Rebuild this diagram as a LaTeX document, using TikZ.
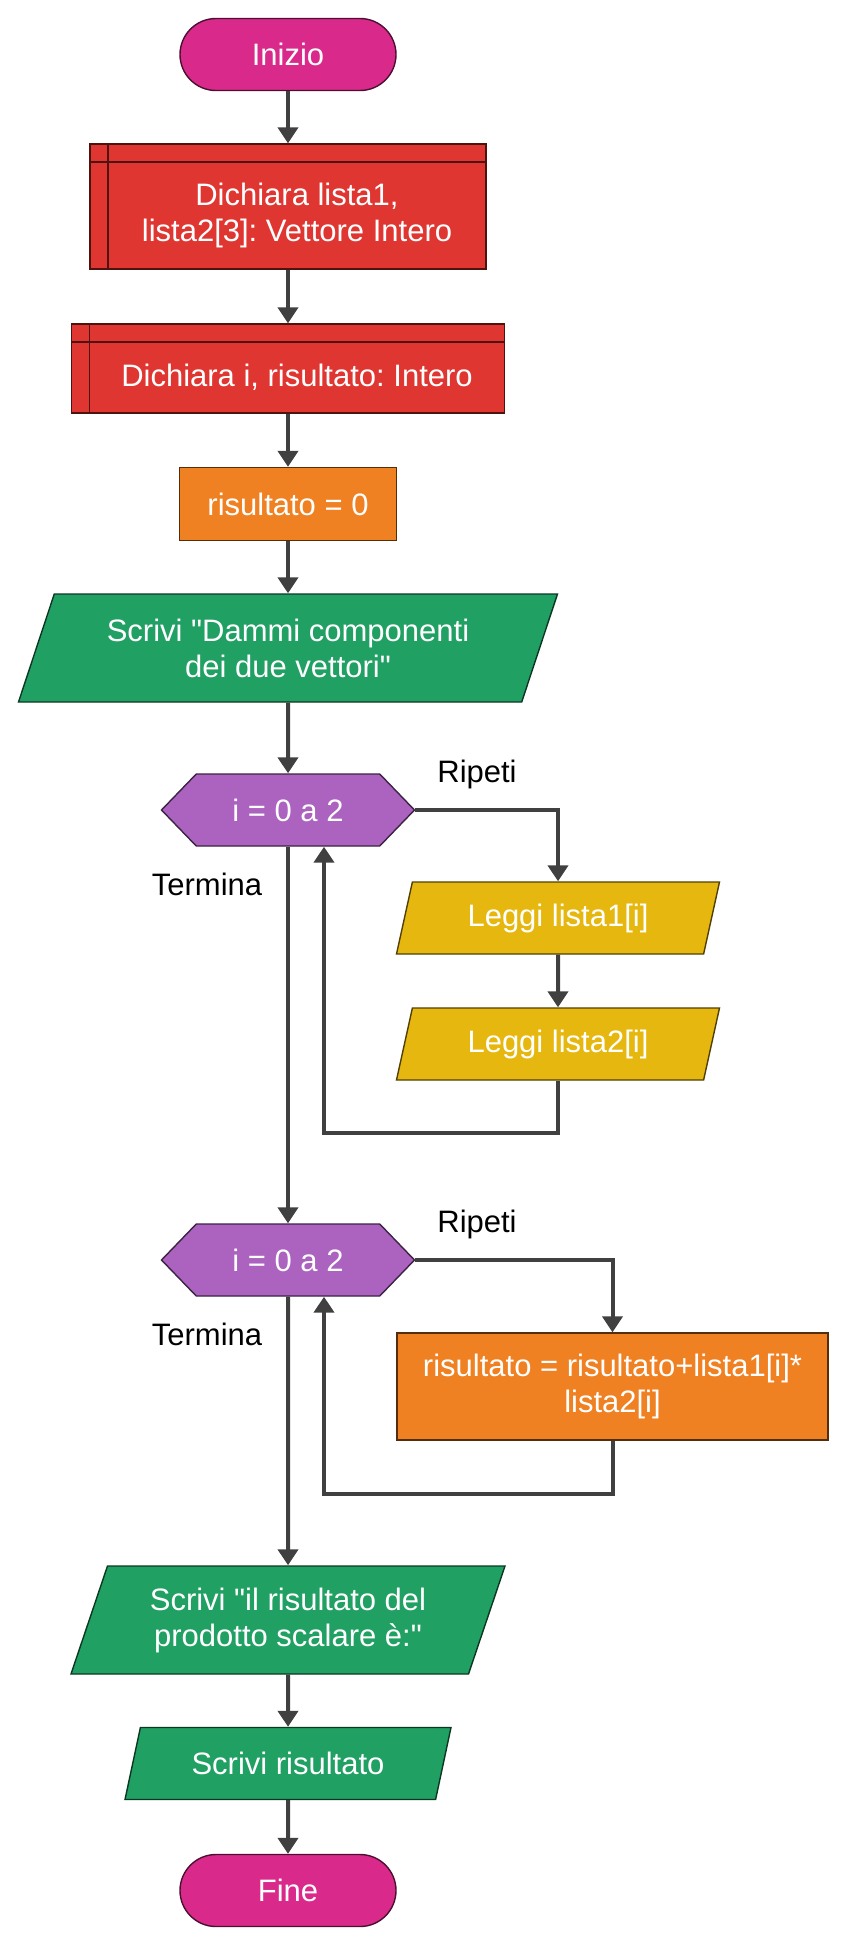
\documentclass[tikz,border=0pt]{standalone}
\usepackage{fontspec}
\setmainfont{Liberation Sans}
\usetikzlibrary{arrows.meta,shapes.geometric,shapes.symbols}
\definecolor{startpink}{HTML}{D92A8B}
\definecolor{declred}{HTML}{E03632}
\definecolor{assignorange}{HTML}{F08122}
\definecolor{iogreen}{HTML}{21A063}
\definecolor{loopviolet}{HTML}{AB63BF}
\definecolor{readyellow}{HTML}{E6B80F}
\definecolor{linegray}{HTML}{404040}
\frenchspacing
% text of a declaration box sits in the part right of / below the inner lines
\newcommand{\declfirst}[1]{\raisebox{0pt}[\dimexpr\height+9pt\relax]{\hspace*{9pt}#1}}
\newcommand{\declnext}[1]{\hspace*{9pt}#1}

\begin{document}
\begin{tikzpicture}[
  x=0.5pt,y=-0.5pt,
  font=\fontsize{15.5pt}{18pt}\selectfont,
  box/.style={draw,line width=0.7pt,align=center,text=white,inner sep=2pt},
  terminal/.style={box,rounded corners=18pt,fill=startpink,draw=startpink!35!black,
    minimum width=108pt,minimum height=36pt},
  declare/.style={box,fill=declred,draw=declred!35!black,
    path picture={
      \draw[declred!35!black,line width=0.7pt]
        ([xshift=9pt]path picture bounding box.north west) --
        ([xshift=9pt]path picture bounding box.south west);
      \draw[declred!35!black,line width=0.7pt]
        ([yshift=-9pt]path picture bounding box.north west) --
        ([yshift=-9pt]path picture bounding box.north east);}},
  assign/.style={box,fill=assignorange,draw=assignorange!35!black},
  inout/.style={box,trapezium,trapezium stretches body,fill=iogreen,draw=iogreen!35!black},
  readin/.style={box,trapezium,trapezium stretches body,fill=readyellow,draw=readyellow!35!black,
    trapezium left angle=66.7,trapezium right angle=113.3,
    minimum width=161.5pt,minimum height=36pt},
  forloop/.style={box,shape=signal,signal to=west and east,signal pointer angle=92,
    fill=loopviolet,draw=loopviolet!35!black,minimum width=126.5pt,minimum height=36pt},
  tag/.style={text=black},
  flow/.style={-{Triangle[length=8pt,width=10pt]},line width=2pt,draw=linegray}
]
  \useasboundingbox (0,0) rectangle (847,1945);

  \node[terminal] (start) at (288,54.5) {Inizio};
  \node[declare,minimum width=198pt,minimum height=62.5pt] (decl1) at (288,206.5)
    {\declfirst{Dichiara lista1,}\\\declnext{lista2[3]: Vettore Intero}};
  \node[declare,minimum width=216.5pt,minimum height=44.5pt] (decl2) at (288,368.5)
    {\declfirst{Dichiara i, risultato: Intero}};
  \node[assign,minimum width=108.5pt,minimum height=36.5pt] (init) at (288,504)
    {risultato = 0};
  \node[inout,trapezium left angle=61.8,trapezium right angle=118.2,
    minimum width=269.5pt,minimum height=54pt] (ask) at (288,648)
    {Scrivi \textquotedbl Dammi componenti\\dei due vettori\textquotedbl};

  \node[forloop] (loop1) at (288,810) {i = 0 a 2};
  \node[tag] (rep1) at (477,774) {Ripeti};
  \node[tag] (end1) at (207,884) {Termina};
  \node[readin] (read1) at (558,918) {Leggi lista1[i]};
  \node[readin] (read2) at (558,1044) {Leggi lista2[i]};

  \node[forloop] (loop2) at (288,1260) {i = 0 a 2};
  \node[tag] (rep2) at (477,1224) {Ripeti};
  \node[tag] (end2) at (207,1334) {Termina};
  \node[assign,minimum width=215.5pt,minimum height=53.5pt] (calc) at (612.5,1386.5)
    {risultato = risultato+lista1[i]*\\lista2[i]};

  \node[inout,trapezium left angle=63.4,trapezium right angle=116.6,
    minimum width=217pt,minimum height=54pt] (say) at (288,1620)
    {Scrivi \textquotedbl il risultato del\\prodotto scalare è:\textquotedbl};
  \node[inout,trapezium left angle=63.4,trapezium right angle=116.6,
    minimum width=163pt,minimum height=36pt] (show) at (288,1763.5)
    {Scrivi risultato};
  \node[terminal] (stop) at (288,1890.5) {Fine};

  \draw[flow] (start) -- (decl1);
  \draw[flow] (decl1) -- (decl2);
  \draw[flow] (decl2) -- (init);
  \draw[flow] (init) -- (ask);
  \draw[flow] (ask) -- (loop1);
  \draw[flow] (loop1.east) -| (read1.north);
  \draw[flow] (read1) -- (read2);
  \draw[flow] (read2.south) -- ++(0,52) -| ([xshift=18pt]loop1.south);
  \draw[flow] (loop1.south) -- (loop2.north);
  \draw[flow] (loop2.east) -| (calc.north);
  \draw[flow] (calc.south) -- ++(0,53) -| ([xshift=18pt]loop2.south);
  \draw[flow] (loop2.south) -- (say.north);
  \draw[flow] (say) -- (show);
  \draw[flow] (show) -- (stop);
\end{tikzpicture}
\end{document}
